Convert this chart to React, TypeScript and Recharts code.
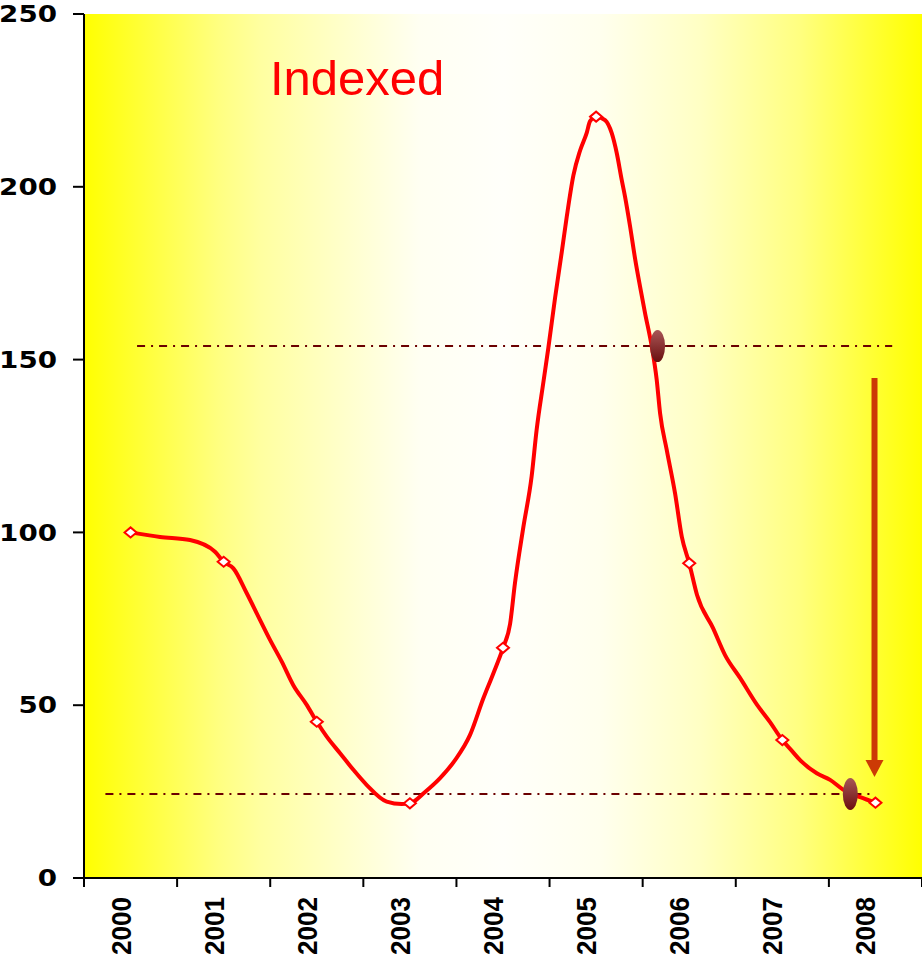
import React from 'react';
import { ComposedChart, Line, XAxis, YAxis, CartesianGrid, ReferenceLine, ReferenceDot } from 'recharts';

// Category labels (one band per year)
const years = ['2000', '2001', '2002', '2003', '2004', '2005', '2006', '2007', '2008'];
// Annual (marked) values
const annualValues = [100, 91.5, 45.2, 21.6, 66.6, 220.3, 91.1, 39.9, 21.8];
// Traced curve: position along the year axis (band units) and value
const tracePositions = [
  0.5, 0.816, 1.139, 1.407, 1.5, 1.604, 1.748, 1.89, 1.998, 2.124, 2.248, 2.392, 2.5,
  2.607, 2.75, 2.893, 3.037, 3.251, 3.412, 3.5, 3.663, 3.824, 3.985, 4.146, 4.289, 4.396, 4.5,
  4.576, 4.629, 4.719, 4.808, 4.861, 4.934, 4.987, 5.059, 5.131, 5.185, 5.256, 5.328, 5.4, 5.435, 5.5,
  5.596, 5.668, 5.722, 5.775, 5.811, 5.865, 5.918, 5.972, 6.026, 6.098, 6.151, 6.187, 6.259, 6.348, 6.42, 6.5,
  6.584, 6.756, 6.885, 7.046, 7.229, 7.368, 7.5, 7.605, 7.691, 7.87, 8.013, 8.156, 8.336, 8.5,
];
const traceValues = [
  100, 98.7, 97.8, 94.4, 91.5, 89.6, 82.4, 74.7, 68.9, 62.6, 55.8, 50.1, 45.2,
  40.9, 36.1, 31.3, 26.9, 22.1, 21.4, 21.6, 24.9, 28.9, 34.1, 41.4, 52.0, 59.2, 66.6,
  73.5, 85.4, 101.6, 116.3, 129.6, 143.5, 153.4, 167.8, 181.1, 191.4, 203.3, 210.5, 215.7, 219.0, 220.3,
  219.3, 215.5, 209.7, 202.0, 197.1, 188.5, 179.3, 171.1, 163.4, 153.7, 144.1, 134.5, 123.8, 111.3, 98.8, 91.1,
  81.9, 72.3, 64.5, 57.9, 50.1, 45.1, 39.9, 36.7, 34.1, 30.3, 28.4, 25.5, 23.4, 21.8,
];
const yTicks = [0, 50, 100, 150, 200, 250];
// Dash-dot level lines
const levelValues = [153.9, 24.3];
const levelStarts = [0.57, 0.23];
const levelEnds = [8.68, 8.44];
// Ellipse highlights
const highlightPositions = [6.16, 8.23];
const highlightValues = [153.9, 24.3];
// Arrow
const arrowPosition = 8.49;
const arrowFrom = 144.7;
const arrowShaftEnd = 34.1;
const arrowHeadCenter = 31.7;

const trace = tracePositions.map((x, i) => ({ x, v: traceValues[i] }));
const annual = annualValues.map((v, i) => ({ x: i + 0.5, v }));
const xTicks = [0, 1, 2, 3, 4, 5, 6, 7, 8, 9];

const W = 922;
const H = 966;
const PLOT_W = 838;
const HALF_BAND = PLOT_W / 9 / 2;

const XTick = (props: any) => {
  const { x, y, payload } = props;
  const idx = payload.value;
  if (idx >= years.length) return null;
  const lx = x + HALF_BAND;
  const ly = y + 10;
  return (
    <text
      x={lx}
      y={ly}
      transform={`rotate(-90 ${lx} ${ly})`}
      textAnchor="end"
      fontFamily="'Liberation Sans', Arial, sans-serif"
      fontWeight="bold"
      fontSize={28}
      textLength={58}
      lengthAdjust="spacingAndGlyphs"
      fill="#000"
    >
      {years[idx]}
    </text>
  );
};

const YTick = (props: any) => {
  const { x, y, payload } = props;
  const s = String(payload.value);
  return (
    <text
      x={x}
      y={y}
      dy="0.36em"
      textAnchor="end"
      fontFamily="'DejaVu Sans', Verdana, sans-serif"
      fontWeight="bold"
      fontSize={23}
      textLength={19.3 * s.length}
      lengthAdjust="spacingAndGlyphs"
      fill="#000"
    >
      {s}
    </text>
  );
};

const Diamond = (props: any) => {
  const { cx, cy, index } = props;
  if (cx == null || cy == null) return null;
  return (
    <polygon
      key={`d-${index}`}
      points={`${cx - 6},${cy} ${cx},${cy - 5} ${cx + 6},${cy} ${cx},${cy + 5}`}
      fill="#FFFFFF"
      stroke="#FF0000"
      strokeWidth={2}
    />
  );
};

const EllipseShape = (props: any) => {
  const { cx, cy } = props;
  return <ellipse cx={cx} cy={cy} rx={7.5} ry={16} fill="url(#ellGrad)" />;
};

const ArrowHead = (props: any) => {
  const { cx, cy } = props;
  return (
    <polygon
      points={`${cx - 9},${cy - 8.5} ${cx + 9},${cy - 8.5} ${cx},${cy + 8.5}`}
      fill="#CC3A05"
    />
  );
};

export default function App() {
  return (
    <div style={{ position: 'absolute', left: 0, top: 0, width: W, height: H, background: '#fff' }}>
      <ComposedChart width={W} height={H} margin={{ top: 14, right: 0, bottom: 0, left: 0 }}>
        <defs>
          <linearGradient id="bgGrad" x1="0" y1="0" x2="1" y2="0">
            <stop offset="0" stopColor="#FFFF00" />
            <stop offset="0.02" stopColor="#FFFF10" />
            <stop offset="0.16" stopColor="#FFFF80" />
            <stop offset="0.21" stopColor="#FFFFA0" />
            <stop offset="0.40" stopColor="#FFFFF2" />
            <stop offset="0.50" stopColor="#FFFFFA" />
            <stop offset="0.616" stopColor="#FFFFEE" />
            <stop offset="0.735" stopColor="#FFFFC4" />
            <stop offset="0.854" stopColor="#FFFF80" />
            <stop offset="1" stopColor="#FFFF00" />
          </linearGradient>
          <linearGradient id="ellGrad" x1="0" y1="0" x2="0" y2="1">
            <stop offset="0" stopColor="#A85656" />
            <stop offset="1" stopColor="#6A0F0F" />
          </linearGradient>
        </defs>
        <CartesianGrid fill="url(#bgGrad)" horizontal={false} vertical={false} />
        <XAxis
          type="number"
          dataKey="x"
          domain={[0, 9]}
          ticks={xTicks}
          interval={0}
          height={88}
          tickSize={9}
          tickMargin={0}
          axisLine={{ stroke: '#000', strokeWidth: 2 }}
          tickLine={{ stroke: '#000', strokeWidth: 2 }}
          tick={<XTick />}
        />
        <YAxis
          type="number"
          domain={[0, 250]}
          ticks={yTicks}
          interval={0}
          width={84}
          tickSize={11}
          tickMargin={16}
          axisLine={{ stroke: '#000', strokeWidth: 2 }}
          tickLine={{ stroke: '#000', strokeWidth: 2 }}
          tick={<YTick />}
        />
        {levelValues.map((v, i) => (
          <ReferenceLine
            key={`lvl-${i}`}
            segment={[{ x: levelStarts[i], y: v }, { x: levelEnds[i], y: v }]}
            stroke="#6B0000"
            strokeWidth={2}
            strokeDasharray="8 6 2 6"
          />
        ))}
        <Line
          data={trace}
          dataKey="v"
          type="monotone"
          stroke="#FF0000"
          strokeWidth={4}
          dot={false}
          activeDot={false}
          isAnimationActive={false}
        />
        <Line
          data={annual}
          dataKey="v"
          stroke="none"
          dot={<Diamond />}
          activeDot={false}
          isAnimationActive={false}
        />
        {highlightPositions.map((x, i) => (
          <ReferenceDot key={`hl-${i}`} x={x} y={highlightValues[i]} shape={<EllipseShape />} />
        ))}
        <ReferenceLine
          segment={[{ x: arrowPosition, y: arrowFrom }, { x: arrowPosition, y: arrowShaftEnd }]}
          stroke="#CC3A05"
          strokeWidth={6}
        />
        <ReferenceDot x={arrowPosition} y={arrowHeadCenter} shape={<ArrowHead />} />
        <text
          x={270}
          y={95}
          fill="#FF0000"
          fontSize={49}
          fontFamily="'Liberation Sans', Arial, sans-serif"
        >
          Indexed
        </text>
      </ComposedChart>
    </div>
  );
}
